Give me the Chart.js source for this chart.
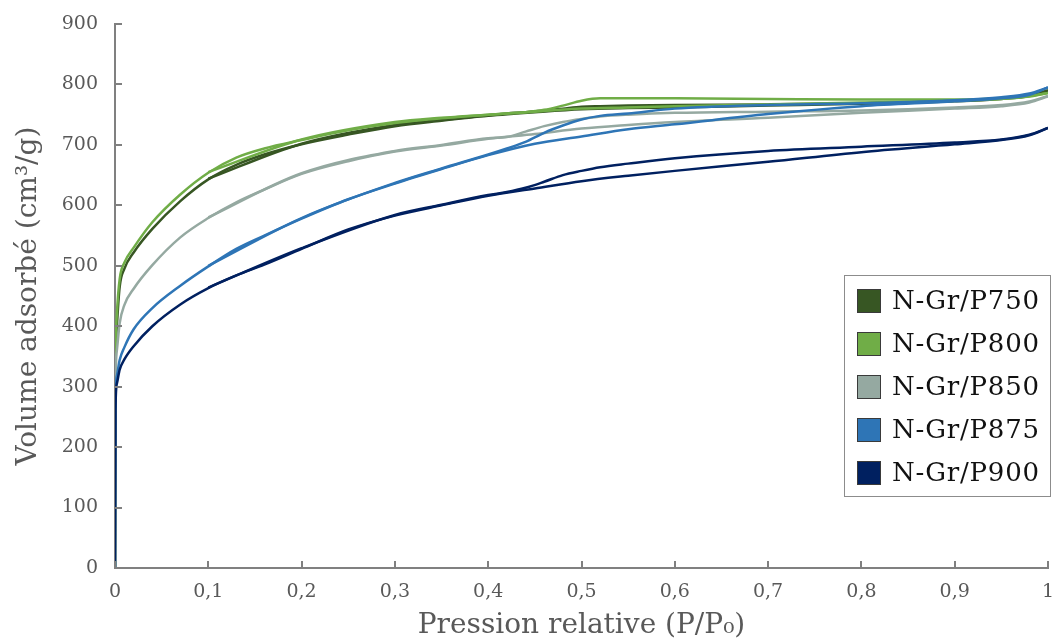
<!DOCTYPE html>
<html>
<head>
<meta charset="utf-8">
<script src="https://cdn.jsdelivr.net/npm/chart.js@4.4.1/dist/chart.umd.min.js"></script>
<style>
  html, body { margin: 0; padding: 0; background: #fff; }
</style>
</head>
<body>
<canvas id="isoChart" width="1053" height="643"></canvas>
<script>
// sample names and colours
const seriesNames = ['N-Gr/P750', 'N-Gr/P800', 'N-Gr/P850', 'N-Gr/P875', 'N-Gr/P900'];
const seriesColors = ['#375623', '#70AD47', '#95A9A1', '#2E75B6', '#002060'];

// relative pressure grids (adsorption branch / desorption branch)
const adsX = [0, 0.0005, 0.002, 0.005, 0.01, 0.02, 0.04, 0.07, 0.1, 0.13, 0.16, 0.2, 0.25, 0.3, 0.35, 0.4, 0.45, 0.5, 0.55, 0.6, 0.7, 0.8, 0.9, 0.95, 0.98, 1.0];
const desX = [0.1, 0.2, 0.3, 0.35, 0.4, 0.42, 0.44, 0.46, 0.48, 0.5, 0.52, 0.55, 0.6, 0.7, 0.8, 0.9, 0.95, 0.98, 1.0];

// adsorbed volume (cm3/g)
const adsP750 = [0, 300, 400, 465, 495, 522, 561, 607, 643, 667, 684, 701, 717, 731, 740, 748, 754, 759, 761, 762, 765, 768, 772, 776, 781, 790];
const adsP800 = [0, 310, 420, 478, 505, 530, 572, 618, 654, 679, 694, 708, 724, 736, 744, 750, 755, 760, 762, 764, 767, 770, 773, 776, 780, 786];
const adsP850 = [0, 290, 360, 405, 435, 462, 501, 547, 579, 605, 626, 652, 673, 689, 699, 710, 718, 727, 733, 738, 745, 753, 760, 764, 770, 780];
const adsP875 = [0, 270, 318, 344, 365, 395, 430, 467, 499, 528, 550, 578, 610, 636, 660, 683, 702, 714, 726, 734, 751, 764, 772, 777, 783, 795];
const adsP900 = [0, 260, 305, 328, 345, 367, 400, 436, 463, 484, 502, 528, 560, 583, 600, 616, 628, 640, 649, 657, 672, 688, 701, 708, 716, 728];

const desP750 = [644, 702, 733, 741, 749, 752, 754, 757, 760, 763, 764, 765, 766, 767, 769, 773, 777, 782, 790];
const desP800 = [655, 709, 738, 745, 750, 752, 754, 758, 765, 773, 777, 777, 777, 776, 775, 775, 777, 781, 786];
const desP850 = [580, 653, 690, 700, 711, 713, 722, 731, 738, 743, 747, 750, 753, 755, 757, 762, 766, 772, 781];
const desP875 = [500, 579, 637, 661, 684, 694, 705, 720, 732, 742, 748, 752, 760, 766, 769, 774, 779, 785, 795];
const desP900 = [464, 529, 584, 601, 617, 622, 629, 639, 650, 657, 663, 669, 678, 690, 697, 704, 709, 717, 728];

const xTickLabels = ['0', '0,1', '0,2', '0,3', '0,4', '0,5', '0,6', '0,7', '0,8', '0,9', '1'];

const adsAll = [adsP750, adsP800, adsP850, adsP875, adsP900];
const desAll = [desP750, desP800, desP850, desP875, desP900];

Chart.defaults.font.family = "'DejaVu Serif', serif";

function branch(name, color, xs, ys) {
  return {
    label: name,
    data: xs.map((x, k) => ({ x: x, y: ys[k] })),
    borderColor: color,
    backgroundColor: color,
    borderWidth: 2.5,
    pointRadius: 0,
    showLine: true,
    cubicInterpolationMode: 'monotone'
  };
}

const datasets = [];
for (let i = seriesNames.length - 1; i >= 0; i--) {
  datasets.push(branch(seriesNames[i], seriesColors[i], adsX, adsAll[i]));
  datasets.push(branch(seriesNames[i], seriesColors[i], desX, desAll[i]));
}

// inward tick marks + boxed legend inside the plot
const decorations = {
  id: 'decorations',
  afterDraw(chart) {
    const ctx = chart.ctx;
    const xs = chart.scales.x, ys = chart.scales.y;
    ctx.save();
    ctx.strokeStyle = '#808080';
    ctx.lineWidth = 2;
    ctx.beginPath();
    ys.ticks.forEach(t => {
      const py = Math.round(ys.getPixelForValue(t.value));
      ctx.moveTo(xs.left, py);
      ctx.lineTo(xs.left + 7, py);
    });
    xs.ticks.forEach(t => {
      const px = Math.round(xs.getPixelForValue(t.value));
      ctx.moveTo(px, ys.bottom);
      ctx.lineTo(px, ys.bottom - 7);
    });
    ctx.stroke();

    // legend
    const lx = 844, ly = 275, lw = 206, lh = 221;
    ctx.fillStyle = '#ffffff';
    ctx.fillRect(lx, ly, lw, lh);
    ctx.strokeStyle = '#8c8c8c';
    ctx.lineWidth = 1;
    ctx.strokeRect(lx + 0.5, ly + 0.5, lw, lh);
    ctx.font = "26px 'DejaVu Serif'";
    ctx.letterSpacing = '0.8px';
    ctx.textBaseline = 'middle';
    seriesNames.forEach((name, i) => {
      const sy = 289 + i * 43;
      ctx.fillStyle = seriesColors[i];
      ctx.fillRect(857, sy, 24, 24);
      ctx.strokeStyle = '#3a3a3a';
      ctx.strokeRect(857.5, sy + 0.5, 23, 23);
      ctx.fillStyle = '#111111';
      ctx.fillText(name, 892, sy + 13);
    });
    ctx.restore();
  }
};

new Chart(document.getElementById('isoChart'), {
  type: 'scatter',
  data: { datasets: datasets },
  options: {
    responsive: false,
    animation: false,
    layout: { padding: { top: 24, right: 5, left: 0, bottom: 0 } },
    plugins: { legend: { display: false }, tooltip: { enabled: false } },
    scales: {
      x: {
        type: 'linear', min: 0, max: 1,
        afterFit: s => { s.height = 75; s.paddingLeft = 0; s.paddingRight = 0; },
        ticks: {
          stepSize: 0.1, color: '#595959', font: { size: 19 }, padding: 13,
          maxRotation: 0,
          callback: v => xTickLabels[Math.round(v * 10)]
        },
        grid: { drawOnChartArea: false, drawTicks: false },
        border: { color: '#808080', width: 2 },
        title: {
          display: true, text: 'Pression relative (P/P\u2080)', color: '#595959',
          font: { size: 28 }, padding: { top: 0, bottom: 0 }
        }
      },
      y: {
        min: 0, max: 900,
        afterFit: s => { s.width = 115; s.paddingTop = 0; s.paddingBottom = 0; },
        ticks: { stepSize: 100, color: '#595959', font: { size: 19 }, padding: 17 },
        grid: { drawOnChartArea: false, drawTicks: false },
        border: { color: '#808080', width: 2 },
        title: {
          display: true, text: 'Volume adsorbé (cm\u00b3/g)', color: '#595959',
          font: { size: 28 }, padding: { top: 12, bottom: 0 }
        }
      }
    }
  },
  plugins: [decorations]
});
</script>
</body>
</html>
